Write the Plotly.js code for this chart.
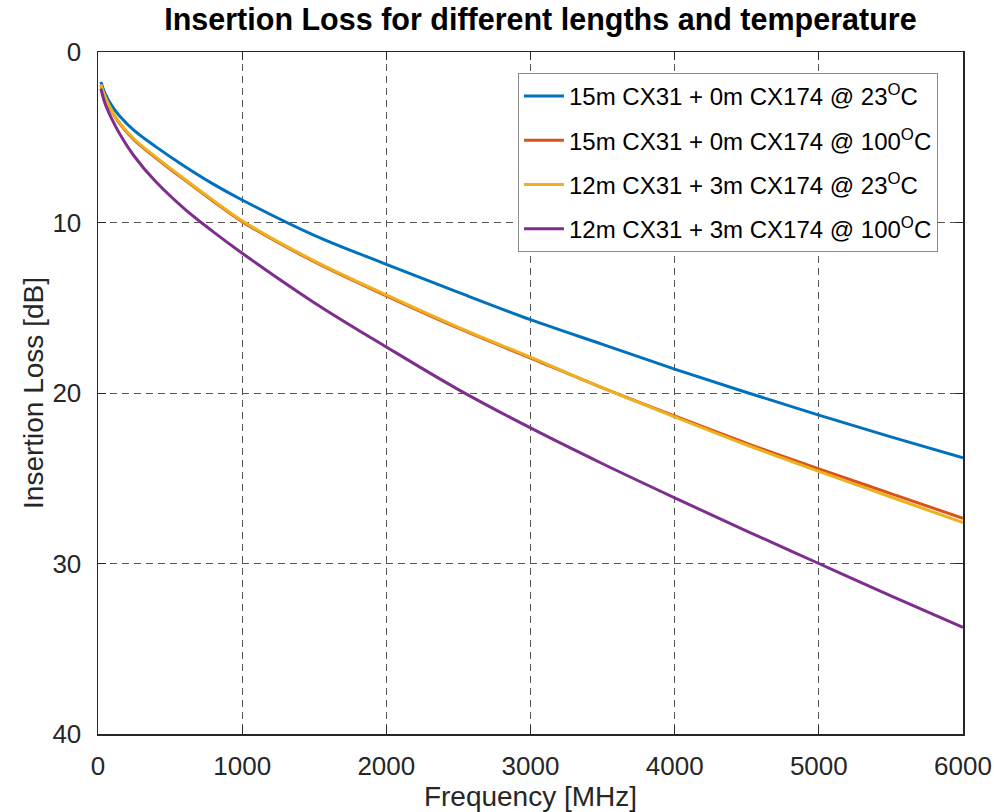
<!DOCTYPE html>
<html>
<head>
<meta charset="utf-8">
<script src="https://cdn.plot.ly/plotly-3.0.1.min.js"></script>
<style>html,body{margin:0;padding:0;background:#fff;}#chart{width:994px;height:812px;}</style>
</head>
<body>
<div id="chart"></div>
<script>
const freq = [20, 50, 100, 150, 250, 400, 600, 800, 1000, 1500, 2000, 2500, 3000, 3500, 4000, 4500, 5000, 5500, 6000];
const il_15m_23C  = [1.75, 2.45, 3.2, 3.75, 4.6, 5.55, 6.7, 7.75, 8.68, 10.75, 12.45, 14.1, 15.7, 17.15, 18.6, 19.97, 21.3, 22.57, 23.8];
const il_15m_100C = [1.95, 2.7, 3.55, 4.2, 5.15, 6.2, 7.5, 8.75, 9.95, 12.3, 14.3, 16.2, 17.95, 19.7, 21.35, 22.95, 24.45, 25.9, 27.35];
const il_12m_23C  = [1.9, 2.65, 3.5, 4.15, 5.1, 6.15, 7.45, 8.7, 9.9, 12.25, 14.25, 16.15, 17.9, 19.7, 21.4, 23.05, 24.6, 26.1, 27.6];
const il_12m_100C = [2.15, 3.05, 4.0, 4.8, 6.1, 7.6, 9.2, 10.55, 11.8, 14.7, 17.3, 19.8, 22.05, 24.15, 26.15, 28.1, 30.0, 31.9, 33.75];
const seriesNames = [
  '15m CX31 + 0m CX174 @ 23<sup>O</sup>C',
  '15m CX31 + 0m CX174 @ 100<sup>O</sup>C',
  '12m CX31 + 3m CX174 @ 23<sup>O</sup>C',
  '12m CX31 + 3m CX174 @ 100<sup>O</sup>C'
];
const seriesData = [il_15m_23C, il_15m_100C, il_12m_23C, il_12m_100C];
const colors = ['#0072BD', '#D95319', '#EDB120', '#7E2F8E'];
const xTicks = [0, 1000, 2000, 3000, 4000, 5000, 6000];
const yTicks = [0, 10, 20, 30, 40];

const FONT = 'Liberation Sans, Arial, Helvetica, sans-serif';

const traces = seriesData.map((d, i) => ({
  x: freq, y: d, type: 'scatter', mode: 'lines',
  name: seriesNames[i], legendgroup: 'g' + i,
  line: {color: colors[i], width: 3, shape: 'spline', smoothing: 1}
}));

const axisCommon = {
  showline: true, linecolor: '#262626', linewidth: 1.5, mirror: 'ticks',
  ticks: 'inside', ticklen: 8, tickcolor: '#262626', tickwidth: 1,
  showgrid: true, gridcolor: '#555555', gridwidth: 1, griddash: '7px,5px',
  zeroline: false,
  tickfont: {family: FONT, size: 26, color: '#262626'}
};

const layout = {
  width: 994, height: 812,
  margin: {l: 98, r: 31, t: 52, b: 78},
  paper_bgcolor: '#fff', plot_bgcolor: '#fff',
  title: {text: '<b>Insertion Loss for different lengths and temperature</b>',
    font: {family: FONT, size: 30.5, color: '#000'},
    x: 0.5437, xanchor: 'center', y: 0.9766, yanchor: 'middle'},
  xaxis: Object.assign({}, axisCommon, {
    range: [0, 6000], tickvals: xTicks, ticktext: xTicks.map(String),
    ticklabelstandoff: 8,
    title: {text: 'Frequency [MHz]', standoff: 4,
      font: {family: FONT, size: 28, color: '#262626'}}
  }),
  yaxis: Object.assign({}, axisCommon, {
    range: [40, 0], tickvals: yTicks, ticktext: yTicks.map(String),
    ticklabelstandoff: 10,
    title: {text: 'Insertion Loss [dB]', standoff: 0,
      font: {family: FONT, size: 28, color: '#262626'}}
  }),
  showlegend: true,
  legend: {
    x: 0.4855, y: 0.9692, xanchor: 'left', yanchor: 'top',
    bgcolor: '#fff', bordercolor: '#8c8c8c', borderwidth: 1,
    font: {family: FONT, size: 24, color: '#000'},
    tracegroupgap: 10, itemwidth: 40
  }
};

Plotly.newPlot('chart', traces, layout, {displayModeBar: false, staticPlot: true});
</script>
</body>
</html>
